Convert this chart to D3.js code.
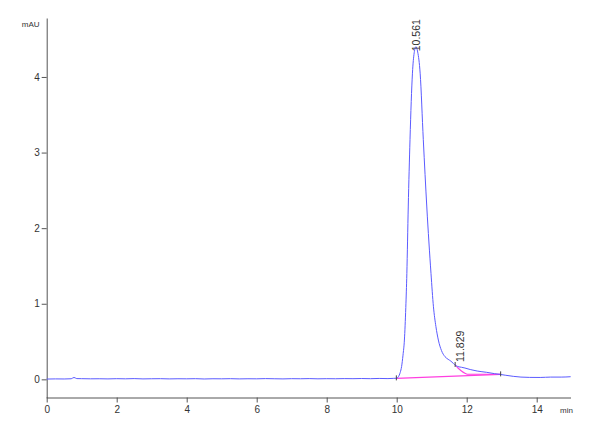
<!DOCTYPE html>
<html>
<head>
<meta charset="utf-8">
<script src="https://cdn.jsdelivr.net/npm/d3@7"></script>
<style>
html,body{margin:0;padding:0;background:#fff;}
svg{display:block;font-family:"Liberation Sans",Arial,sans-serif;}
</style>
</head>
<body>
<svg id="chart" width="600" height="440"></svg>
<script>
// ---- data ----
const signalTimes = [0,0.25,0.5,0.7,0.78,0.86,1.0,1.25,1.5,1.75,2.0,2.25,2.5,2.75,3.0,3.25,3.5,3.75,4.0,4.25,4.5,4.75,5.0,5.25,5.5,5.75,6.0,6.25,6.5,6.75,7.0,7.25,7.5,7.75,8.0,8.25,8.5,8.75,9.0,9.25,9.5,9.75,9.9,
  10.0,10.05,10.1,10.14,10.18,10.22,10.26,10.29,10.33,10.38,10.45,10.5,10.55,10.6,10.67,10.76,10.86,10.98,11.05,11.12,11.19,11.28,11.38,11.47,11.55,11.62,11.7,11.78,11.85,11.95,12.1,12.3,12.57,12.8,12.95,13.1,13.33,13.55,13.8,14.1,14.4,14.7,14.97];
const signalValues = [0.004,0.006,0.005,0.008,0.025,0.01,0.009,0.007,0.008,0.006,0.009,0.007,0.01,0.006,0.008,0.009,0.006,0.008,0.007,0.009,0.005,0.008,0.007,0.009,0.006,0.008,0.007,0.01,0.008,0.006,0.009,0.008,0.01,0.007,0.009,0.008,0.01,0.009,0.011,0.009,0.012,0.01,0.013,
  0.015,0.035,0.09,0.17,0.32,0.52,0.95,1.40,2.28,3.17,4.05,4.32,4.40,4.33,4.05,3.17,2.28,1.40,0.96,0.70,0.52,0.38,0.30,0.265,0.24,0.21,0.18,0.165,0.16,0.15,0.13,0.11,0.093,0.075,0.066,0.055,0.04,0.03,0.026,0.025,0.03,0.03,0.035];

const baselineTimes = [9.99, 12.97];
const baselineValues = [0.013, 0.066];
const skimTimes = [11.67, 11.75, 11.85, 11.95, 12.02, 12.5, 12.97];
const skimValues = [0.19, 0.15, 0.11, 0.08, 0.068, 0.067, 0.066];

const peakTimes = [10.561, 11.829];
const peakLabels = ["10.561", "11.829"];
const peakLabelValues = [4.34, 0.23];

const markerTimes = [9.99, 11.67, 12.97];
const markerValues = [0.013, 0.19, 0.066];

const xMajorTicks = [0,2,4,6,8,10,12,14];
const xMinorTicks = d3.range(0, 15, 0.5);
const yMajorTicks = [0,1,2,3,4];
const yMinorTicks = d3.range(-0.2, 4.8, 0.2).map(v => Math.round(v*10)/10);

// ---- scales ----
const svg = d3.select("#chart");
const x = d3.scaleLinear().domain([0, 14.98]).range([46.7, 571]);
const y = d3.scaleLinear().domain([-0.24, 4.78]).range([397.5, 18]);

const axisColor = "#555";
const textColor = "#333";

// ---- axes ----
const gx = svg.append("g").attr("transform", `translate(0,${y.range()[0]})`);
gx.call(d3.axisBottom(x).tickValues(xMinorTicks).tickSize(3).tickFormat("").tickSizeOuter(0));
gx.call(d3.axisBottom(x).tickValues(xMajorTicks).tickSize(5).tickPadding(3).tickSizeOuter(0));
gx.selectAll(".domain").attr("stroke", axisColor).attr("d", `M${x.range()[0]},0.5H${x.range()[1]}`);
gx.selectAll("line").attr("stroke", axisColor);
gx.selectAll("text").attr("fill", textColor).style("font-size", "10px").style("font-family", "Liberation Sans, Arial, sans-serif");

const gy = svg.append("g").attr("transform", `translate(${x.range()[0]},0)`);
gy.call(d3.axisLeft(y).tickValues(yMinorTicks).tickSize(3).tickFormat("").tickSizeOuter(0));
gy.call(d3.axisLeft(y).tickValues(yMajorTicks).tickSize(5).tickPadding(2).tickFormat(d3.format("d")).tickSizeOuter(0));
gy.selectAll(".domain").attr("stroke", axisColor);
gy.selectAll("line").attr("stroke", axisColor);
gy.selectAll("text").attr("fill", textColor).style("font-size", "10px").style("font-family", "Liberation Sans, Arial, sans-serif");

svg.append("text").attr("x", 39.5).attr("y", 26.5).attr("text-anchor", "end")
  .attr("fill", textColor).style("font-size", "8px").text("mAU");
svg.append("text").attr("x", 560).attr("y", 413).attr("text-anchor", "start")
  .attr("fill", textColor).style("font-size", "8px").text("min");

// ---- lines ----
const lineGen = d3.line().x(d => x(d[0])).y(d => y(d[1])).curve(d3.curveMonotoneX);

svg.append("path")
  .datum(baselineTimes.map((t,i) => [t, baselineValues[i]]))
  .attr("d", d3.line().x(d => x(d[0])).y(d => y(d[1])))
  .attr("fill", "none").attr("stroke", "#ff3fe0").attr("stroke-width", 1.1);

svg.append("path")
  .datum(skimTimes.map((t,i) => [t, skimValues[i]]))
  .attr("d", lineGen)
  .attr("fill", "none").attr("stroke", "#ff3fe0").attr("stroke-width", 1.1);

svg.append("path")
  .datum(signalTimes.map((t,i) => [t, signalValues[i]]))
  .attr("d", lineGen)
  .attr("fill", "none").attr("stroke", "#5b5bff").attr("stroke-width", 1);

// peak start/end markers
svg.selectAll(".marker").data(markerTimes).enter().append("line")
  .attr("x1", (d) => x(d)).attr("x2", (d) => x(d))
  .attr("y1", (d,i) => y(markerValues[i]) - 3).attr("y2", (d,i) => y(markerValues[i]) + 2)
  .attr("stroke", "#444").attr("stroke-width", 1);

// peak labels
svg.selectAll(".plabel").data(peakTimes).enter().append("text")
  .attr("transform", (d,i) => `translate(${x(d)+3.5},${y(peakLabelValues[i])}) rotate(-90)`)
  .attr("text-anchor", "start")
  .attr("fill", textColor).style("font-size", "10.5px")
  .text((d,i) => peakLabels[i]);
</script>
</body>
</html>
